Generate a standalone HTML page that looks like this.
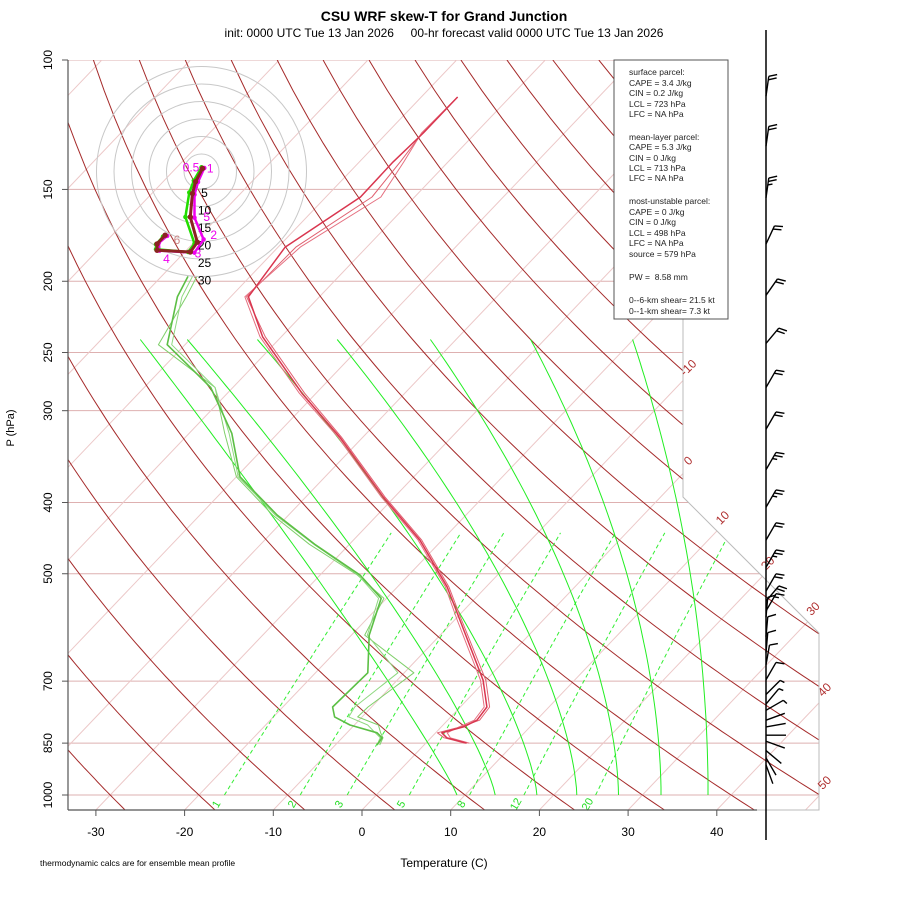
<!DOCTYPE html>
<html><head><meta charset="utf-8"><title>CSU WRF skew-T</title>
<style>
html,body{margin:0;padding:0;background:#fff;}
svg{display:block;font-family:"Liberation Sans",Arial,sans-serif;}
</style></head>
<body>
<svg id="chart" width="900" height="900" viewBox="0 0 900 900" xmlns="http://www.w3.org/2000/svg">
  <defs>
    <clipPath id="plotclip"><polygon points="68,60 683,60 683,497 819,633 819,810 68,810"/></clipPath>
  </defs>
  <rect x="0" y="0" width="900" height="900" fill="#fff"/>
  <text x="444" y="21" text-anchor="middle" font-size="14" font-weight="bold">CSU WRF skew-T for Grand Junction</text>
  <text x="444" y="37" text-anchor="middle" font-size="12" style="white-space:pre">init: 0000 UTC Tue 13 Jan 2026     00-hr forecast valid 0000 UTC Tue 13 Jan 2026</text>
  <g id="bg" clip-path="url(#plotclip)"></g>
  <g id="frame"></g>
  <g id="axes"></g>
  <g id="profiles"></g>
  <g id="hodo"></g>
  <g id="barbs"></g>
  <g>
    <rect x="614" y="60" width="114" height="259" fill="#fff" stroke="#555" stroke-width="1"/>
    <g font-size="8.5" fill="#222">
      <text x="629" y="75">surface parcel:</text>
      <text x="629" y="86">CAPE = 3.4 J/kg</text>
      <text x="629" y="96">CIN = 0.2 J/kg</text>
      <text x="629" y="107">LCL = 723 hPa</text>
      <text x="629" y="117">LFC = NA hPa</text>
      <text x="629" y="140">mean-layer parcel:</text>
      <text x="629" y="150">CAPE = 5.3 J/kg</text>
      <text x="629" y="161">CIN = 0 J/kg</text>
      <text x="629" y="171">LCL = 713 hPa</text>
      <text x="629" y="181">LFC = NA hPa</text>
      <text x="629" y="204">most-unstable parcel:</text>
      <text x="629" y="215">CAPE = 0 J/kg</text>
      <text x="629" y="225">CIN = 0 J/kg</text>
      <text x="629" y="236">LCL = 498 hPa</text>
      <text x="629" y="246">LFC = NA hPa</text>
      <text x="629" y="257">source = 579 hPa</text>
      <text x="629" y="280" style="white-space:pre">PW =  8.58 mm</text>
      <text x="629" y="303">0--6-km shear= 21.5 kt</text>
      <text x="629" y="314">0--1-km shear= 7.3 kt</text>
    </g>
  </g>
  <text x="444" y="867" text-anchor="middle" font-size="12">Temperature (C)</text>
  <text x="0" y="0" transform="translate(14,428) rotate(-90)" text-anchor="middle" font-size="11">P (hPa)</text>
  <text x="40" y="866" font-size="8.5">thermodynamic calcs are for ensemble mean profile</text>
</svg>
<script>
// ---- data ----
const isobarLevels = [100,150,200,250,300,400,500,700,850,1000];
const tempTicks = [-30,-20,-10,0,10,20,30,40];
const isothermLabels = [-10,0,10,20,30,40,50];
const mixingRatios = [1,2,3,5,8,12,20];
const moistBottomT = [9.1,13.4,18.1,22.6,27.3,32.1,37.4];
const moistTopT = [-75.6,-70.3,-62.4,-53.4,-42.9,-31.6,-20.1];
const tempPres = [112.3,125.7,137.6,153.6,179.7,210,238,284,326,393,450,521,578,698,759,791,808,823,836,850];
const tempMain = [-65.9,-65.9,-66.2,-66.1,-69.2,-68.0,-62.1,-51.6,-42.6,-31.3,-22.5,-14.4,-9.4,-0.3,3.0,3.3,2.5,0.7,1.8,4.6];
const tempMem2 = [-65.9,-66.0,-65.4,-64.8,-68.0,-68.2,-61.8,-51.3,-42.4,-31.1,-22.3,-14.2,-9.2,0.0,3.3,3.6,2.2,0.2,1.5,4.4];
const tempMem3 = [-65.9,-66.1,-65.0,-63.8,-67.5,-68.4,-62.4,-51.9,-42.8,-31.5,-22.7,-14.6,-9.7,-0.6,2.7,3.0,2.0,1.3,2.2,4.9];
const dewPres = [197,210,244,279,322,369,416,456,502,540,606,682,759,783,803,823,836,855];
const dewMain = [-77.0,-76.0,-72.0,-62.5,-55.2,-49.6,-41.3,-33.9,-25.5,-20.6,-18.0,-14.1,-14.4,-13.1,-10.5,-6.6,-5.5,-5.3];
const dewMem2 = [-76.0,-75.0,-73.0,-62.0,-56.0,-50.0,-41.8,-34.5,-25.8,-20.3,-18.5,-8.9,-10.4,-10.5,-7.3,-6.2,-5.4,-5.0];
const dewMem3 = [-76.5,-75.5,-71.5,-62.0,-55.5,-49.8,-41.5,-34.0,-25.7,-20.9,-18.2,-10.7,-11.9,-11.5,-8.5,-6.8,-5.7,-5.3];
const windPres = [112,131,154,178,209,243,279,318,361,406,450,490,528,545,562,573,609,640,665,697,730,752,767,791,808,829,845,870,890,910];
const windDir = [8,8,8,25,35,40,30,30,30,30,30,30,30,40,30,5,5,5,10,30,45,40,60,70,80,90,110,130,150,160];
const windSpd = [20,20,25,20,20,20,20,20,25,25,20,25,20,20,15,10,10,10,10,10,5,5,5,0,0,0,0,0,0,0];
const hodoU1 = [0.3,-1.7,-2.6,-3.2,-1.2,-3.2,-12.7,-12.7,-10.4];
const hodoV1 = [0.9,-2.9,-6.3,-13.0,-20.2,-23.0,-22.5,-20.7,-18.2];
const hodoU2 = [0.8,-1.0,-2.0,-2.0,0.6,-2.0,-12.0,-12.2,-9.8];
const hodoV2 = [1.0,-3.0,-6.6,-13.2,-19.4,-23.2,-22.6,-20.4,-18.4];
const hodoU3 = [0.0,-2.2,-3.5,-4.6,-2.0,-3.8,-13.0,-13.0,-11.0];
const hodoV3 = [1.2,-2.6,-6.0,-13.0,-20.6,-23.0,-22.2,-20.8,-18.6];
const hodoRings = [5,10,15,20,25,30];

// ---- axis functions ----
const SK = 0.954;
function Y(p){ return 60 + 735*Math.log10(p/100); }
function X(T,p){ return 362 + 8.87*T + SK*(810 - Y(p)); }
function X0(T){ return 362 + 8.87*T; }
const NS='http://www.w3.org/2000/svg';
function mk(tag, attrs, parent){
  const el=document.createElementNS(NS,tag);
  for(const k in attrs) el.setAttribute(k,attrs[k]);
  parent.appendChild(el); return el;
}
function pts(arr){ return arr.map(a=>a[0].toFixed(1)+','+a[1].toFixed(1)).join(' '); }
const bg=document.getElementById('bg'), frame=document.getElementById('frame'), axes=document.getElementById('axes');
const prof=document.getElementById('profiles'), hodo=document.getElementById('hodo'), barbs=document.getElementById('barbs');

// isobars
isobarLevels.forEach(p=>{
  const l=mk('line',{x1:68,x2:820,y1:Y(p),y2:Y(p),stroke:'#deb0b0','stroke-width':1},bg);
  
  
});
// isotherms
for(let T=-150;T<=50;T+=10){
  const l=mk('line',{x1:X(T,1050),y1:Y(1050),x2:X(T,100),y2:Y(100),stroke:'#ecc8c8','stroke-width':1},bg);
  
  
}
// dry adiabats
for(let th=-30;th<=180;th+=10){
  const a=[];
  for(let p=1050;p>=100;p-=10){ const T=(th+273.15)*Math.pow(p/1000,0.2857)-273.15; a.push([X(T,p),Y(p)]); }
  const l=mk('polyline',{points:pts(a),fill:'none',stroke:'#a52a2a','stroke-width':1},bg);
  
  
}
// mixing ratio lines
function tdFromE(e){ const L=Math.log(e/6.112); return 243.5*L/(17.67-L); }
mixingRatios.forEach(w=>{
  const a=[];
  for(let p=1000;p>=440;p-=10){ const e=w*p/(622+w); a.push([X(tdFromE(e),p),Y(p)]); }
  const l=mk('polyline',{points:pts(a),fill:'none',stroke:'#33ee33','stroke-width':1,'stroke-dasharray':'4,3'},bg);
  
  
  const xb=X(tdFromE(w*1000/(622+w)),1000);
  const t=mk('text',{x:0,y:0,transform:'translate('+(xb-5)+',806) rotate(-60)','text-anchor':'middle','font-size':11,fill:'#22dd22'},axes);
  t.textContent=String(w);
  
  
});
// moist adiabats (shape fitted to reference rendering)
moistBottomT.forEach((Tb,i)=>{
  const xb=X(Tb,1000), yb=Y(1000), xt=X(moistTopT[i],240), yt=Y(240);
  const ex=1.1+i*0.15;
  const a=[];
  for(let k=0;k<=60;k++){
    const s=k/60, y=yb+(yt-yb)*s;
    a.push([xb+(xt-xb)*Math.pow(s,ex), y]);
  }
  const l=mk('polyline',{points:pts(a),fill:'none',stroke:'#22ee22','stroke-width':1},bg);
  
  
});
// frame
const fr=mk('polyline',{points:'683,60 683,497 819,633 819,810 757,810',fill:'none',stroke:'#bbb','stroke-width':1},frame);


const la=mk('line',{x1:68,y1:60,x2:68,y2:810,stroke:'#555','stroke-width':1.2},axes);


const ba=mk('line',{x1:68,y1:810,x2:757,y2:810,stroke:'#555','stroke-width':1.2},axes);


isobarLevels.forEach(p=>{
  const tk=mk('line',{x1:62,x2:68,y1:Y(p),y2:Y(p),stroke:'#555'},axes);
  
  
  const t=mk('text',{x:0,y:0,transform:'translate(52,'+Y(p)+') rotate(-90)','text-anchor':'middle','font-size':12},axes);
  t.textContent=String(p);
  
  
});
tempTicks.forEach(T=>{
  const tk=mk('line',{x1:X0(T),x2:X0(T),y1:810,y2:816,stroke:'#555'},axes);
  
  
  const t=mk('text',{x:X0(T),y:836,'text-anchor':'middle','font-size':12},axes);
  t.textContent=String(T);
  
  
});
// isotherm labels
isothermLabels.forEach(T=>{
  let yEnd=810;
  for(let y=810;y>=60;y-=0.5){
    const x=X0(T)+SK*(810-y);
    const bx = y<497 ? 683 : (y<633 ? 683+(y-497) : 819);
    if(x>bx){ yEnd=y; break; }
  }
  const xe=X0(T)+SK*(810-yEnd);
  const t=mk('text',{x:0,y:0,transform:'translate('+(xe+8)+','+(yEnd-10)+') rotate(-45)','text-anchor':'middle','font-size':12,fill:'#b03030'},axes);
  t.textContent=String(T);
  
  
});
// profiles
function profile(P,V,color,w,name){
  const a=P.map((p,i)=>[X(V[i],p),Y(p)]);
  const l=mk('polyline',{points:pts(a),fill:'none',stroke:color,'stroke-width':w,'stroke-linejoin':'round'},prof);
  
  
}
profile(dewPres,dewMem2,'#7fcf6a',1,'dewpoint-member-2');
profile(dewPres,dewMem3,'#8fd880',1,'dewpoint-member-3');
profile(dewPres,dewMain,'#5cbf45',1.6,'dewpoint-mean');
profile(tempPres,tempMem2,'#e06070',1,'temperature-member-2');
profile(tempPres,tempMem3,'#e57080',1,'temperature-member-3');
profile(tempPres,tempMain,'#d9364f',1.5,'temperature-mean');

// hodograph
const HC=[201.5,171.5], HS=3.5;
hodoRings.forEach(r=>{
  const c=mk('circle',{cx:HC[0],cy:HC[1],r:r*HS,fill:'none',stroke:'#c8c8c8','stroke-width':1},hodo);
  
  
  const t=mk('text',{x:HC[0]+3,y:HC[1]+r*HS+5,'text-anchor':'middle','font-size':12,'dominant-baseline':'middle'},hodo);
  t.textContent=String(r);
  
  
});
function hodoLine(U,V,color,w,name){
  const a=U.map((u,i)=>[HC[0]+u*HS,HC[1]-V[i]*HS]);
  const l=mk('polyline',{points:pts(a),fill:'none',stroke:color,'stroke-width':w,'stroke-linejoin':'round'},hodo);
  
  
  a.forEach(q=>{
    const d=mk('circle',{cx:q[0],cy:q[1],r:w*0.9,fill:color},hodo);
    
    
  });
}
hodoLine(hodoU2,hodoV2,'#ee00ee',2.5,'hodograph-magenta');
hodoLine(hodoU3,hodoV3,'#22dd00',2.5,'hodograph-green');
hodoLine(hodoU1,hodoV1,'#8b2323',3,'hodograph-mean');
[['0.5',-3,1.2,'#ee00ee'],['1',2.5,0.9,'#ee00ee'],['2',3.5,-18.2,'#ee00ee'],['3',-1,-23.4,'#ee00ee'],['4',-10,-25,'#ee00ee'],['6',-7,-19.5,'#cc8888'],['5',1.5,-13,'#ee00ee']].forEach(s=>{
  const t=mk('text',{x:HC[0]+s[1]*HS,y:HC[1]-s[2]*HS+4,'text-anchor':'middle','font-size':12,fill:s[3]},hodo);
  t.textContent=s[0];
  
  
});

// wind barbs
const bl=mk('line',{x1:766,y1:30,x2:766,y2:840,stroke:'#000','stroke-width':1.5},barbs);


windPres.forEach((p,i)=>{
  const d=windDir[i]*Math.PI/180, L=20;
  const bx=766, by=Y(p), ux=Math.sin(d), uy=-Math.cos(d);
  const tx=bx+L*ux, ty=by+L*uy;
  const g=mk('g',{stroke:'#000','stroke-width':1.4,fill:'none'},barbs);
  
  
  mk('line',{x1:bx,y1:by,x2:tx,y2:ty},g);
  let s=windSpd[i], k=0;
  const px=-uy, py=ux;
  while(s>=10){ const sx=tx-ux*k*3.5, sy=ty-uy*k*3.5;
    mk('line',{x1:sx,y1:sy,x2:sx+px*8+ux*3,y2:sy+py*8+uy*3},g); s-=10; k++; }
  if(s>=5){ const sx=tx-ux*k*3.5, sy=ty-uy*k*3.5;
    mk('line',{x1:sx,y1:sy,x2:sx+px*4.5+ux*1.5,y2:sy+py*4.5+uy*1.5},g); }
});
</script>
</body></html>
